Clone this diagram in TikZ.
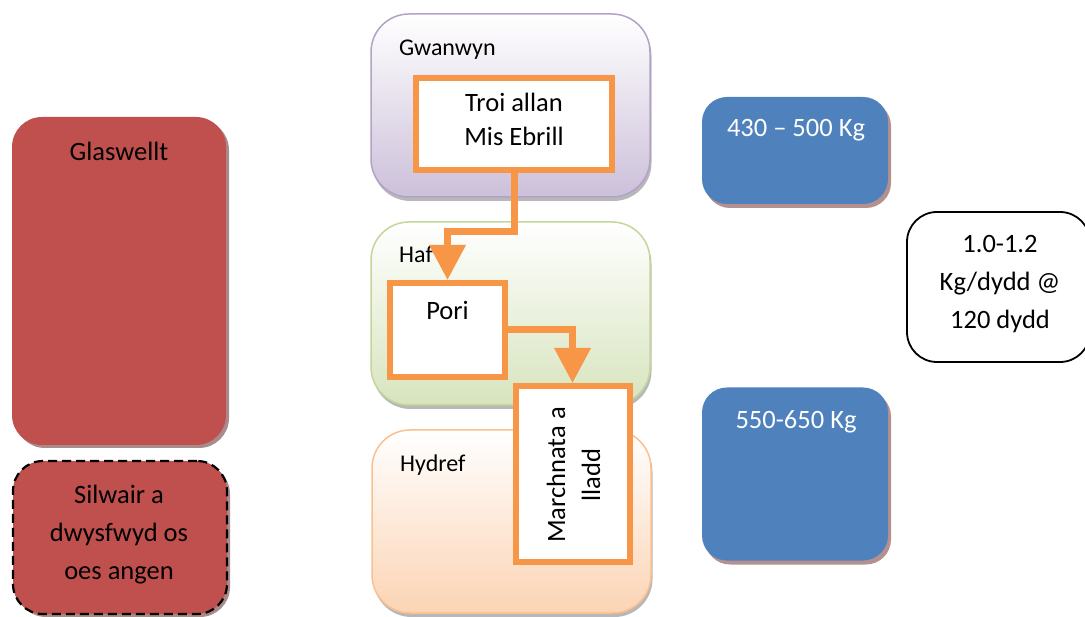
\documentclass[tikz,border=0pt]{standalone}
\usepackage{fontspec}
\setmainfont{Carlito}
\usetikzlibrary{arrows.meta,shadows}
\definecolor{redfill}{HTML}{C0504D}
\definecolor{redshadow}{HTML}{A88C8B}
\definecolor{bluefill}{HTML}{4F81BD}
\definecolor{blueshadow}{HTML}{B59090}
\definecolor{orangeline}{HTML}{F79646}
\definecolor{springline}{HTML}{B3A2C7}
\definecolor{springfill}{HTML}{CCC0DA}
\definecolor{summerline}{HTML}{C3D69B}
\definecolor{summerfill}{HTML}{D7E4BD}
\definecolor{autumnline}{HTML}{FAC090}
\definecolor{autumnfill}{HTML}{FBD4B4}
\begin{document}
\begin{tikzpicture}[x=1pt,y=-1pt,
  maintext/.style={font=\fontsize{26.5}{38}\selectfont, align=center, inner sep=0pt},
  seasontext/.style={font=\fontsize{24}{28}\selectfont, inner sep=0pt},
  redbox/.style={fill=redfill, rounded corners=30pt, inner sep=0pt,
    drop shadow={shadow xshift=3pt, shadow yshift=-3pt, fill=redshadow, opacity=1}},
  bluebox/.style={fill=bluefill, rounded corners=25pt, inner sep=0pt,
    drop shadow={shadow xshift=3pt, shadow yshift=-4pt, fill=blueshadow, opacity=1}},
  seasonbox/.style={line width=1.5pt, rounded corners=38pt, inner sep=0pt,
    minimum width=279pt, minimum height=183pt,
    drop shadow={shadow xshift=1.5pt, shadow yshift=-4pt, fill=black!35, opacity=0.8}},
  stepbox/.style={draw=orangeline, line width=6pt, fill=white, inner sep=0pt},
  flow/.style={draw=orangeline, line width=7pt,
    -{Triangle[width=35pt,length=35pt]}},
]
\useasboundingbox (0,0) rectangle (1085,617);

% left red boxes
\node[redbox, minimum width=214pt, minimum height=328pt] (glas) at (119,281) {};
\node[maintext, anchor=base] (glast) at (119,161) {Glaswellt};
\node[redbox, draw=black, line width=2.2pt, dash pattern=on 9pt off 5pt,
      minimum width=214pt, minimum height=153pt] (silw) at (120,537.5) {};
\node[maintext, anchor=base] (silwt) at (119,579) {Silwair a\\dwysfwyd os\\oes angen};

% season boxes
\node[seasonbox, draw=springline, top color=white, bottom color=springfill] (spring) at (510.5,105.5) {};
\node[seasontext, anchor=base west] (springt) at (399,56) {Gwanwyn};
\node[seasonbox, draw=summerline, top color=white, bottom color=summerfill] (summer) at (510.5,313.5) {};
\node[seasontext, anchor=base west] (summert) at (399,263) {Haf};
\node[seasonbox, draw=autumnline, top color=white, bottom color=autumnfill] (autumn) at (511.5,521.5) {};
\node[seasontext, anchor=base west] (autumnt) at (400,472) {Hydref};

% step boxes
\node[stepbox, minimum width=196pt, minimum height=92pt] (troi) at (514,124) {};
\node[maintext, font=\fontsize{26.5}{34}\selectfont, anchor=base] (troit) at (514,146) {Troi allan\\Mis Ebrill};
\node[stepbox, minimum width=115pt, minimum height=94pt] (pori) at (447.5,330) {};
\node[maintext, anchor=base] (porit) at (447.5,320) {Pori};
\node[stepbox, minimum width=114pt, minimum height=176pt] (march) at (572.5,474) {};
\node[maintext, font=\fontsize{26.5}{35}\selectfont, rotate=90] (marcht) at (573.5,475) {Marchnata a\\lladd};

% connectors
\draw[flow] (troi.south) -- ++(0,59) -| (pori.north);
\draw[flow] (pori.east) -| (march.north);

% right boxes
\node[bluebox, minimum width=186pt, minimum height=107pt] (w1) at (795,150.5) {};
\node[maintext, text=white, anchor=base] (w1t) at (796,137) {430 -- 500 Kg};
\node[bluebox, minimum width=186pt, minimum height=173pt] (w2) at (795,474) {};
\node[maintext, text=white, anchor=base] (w2t) at (796,429) {550-650 Kg};
\node[draw=black, line width=1.8pt, fill=white, rounded corners=30pt,
      minimum width=183pt, minimum height=150pt] (gain) at (998.5,287) {};
\node[maintext, anchor=base] (gaint) at (1000,329) {1.0-1.2\\Kg/dydd @\\120 dydd};
\end{tikzpicture}
\end{document}
